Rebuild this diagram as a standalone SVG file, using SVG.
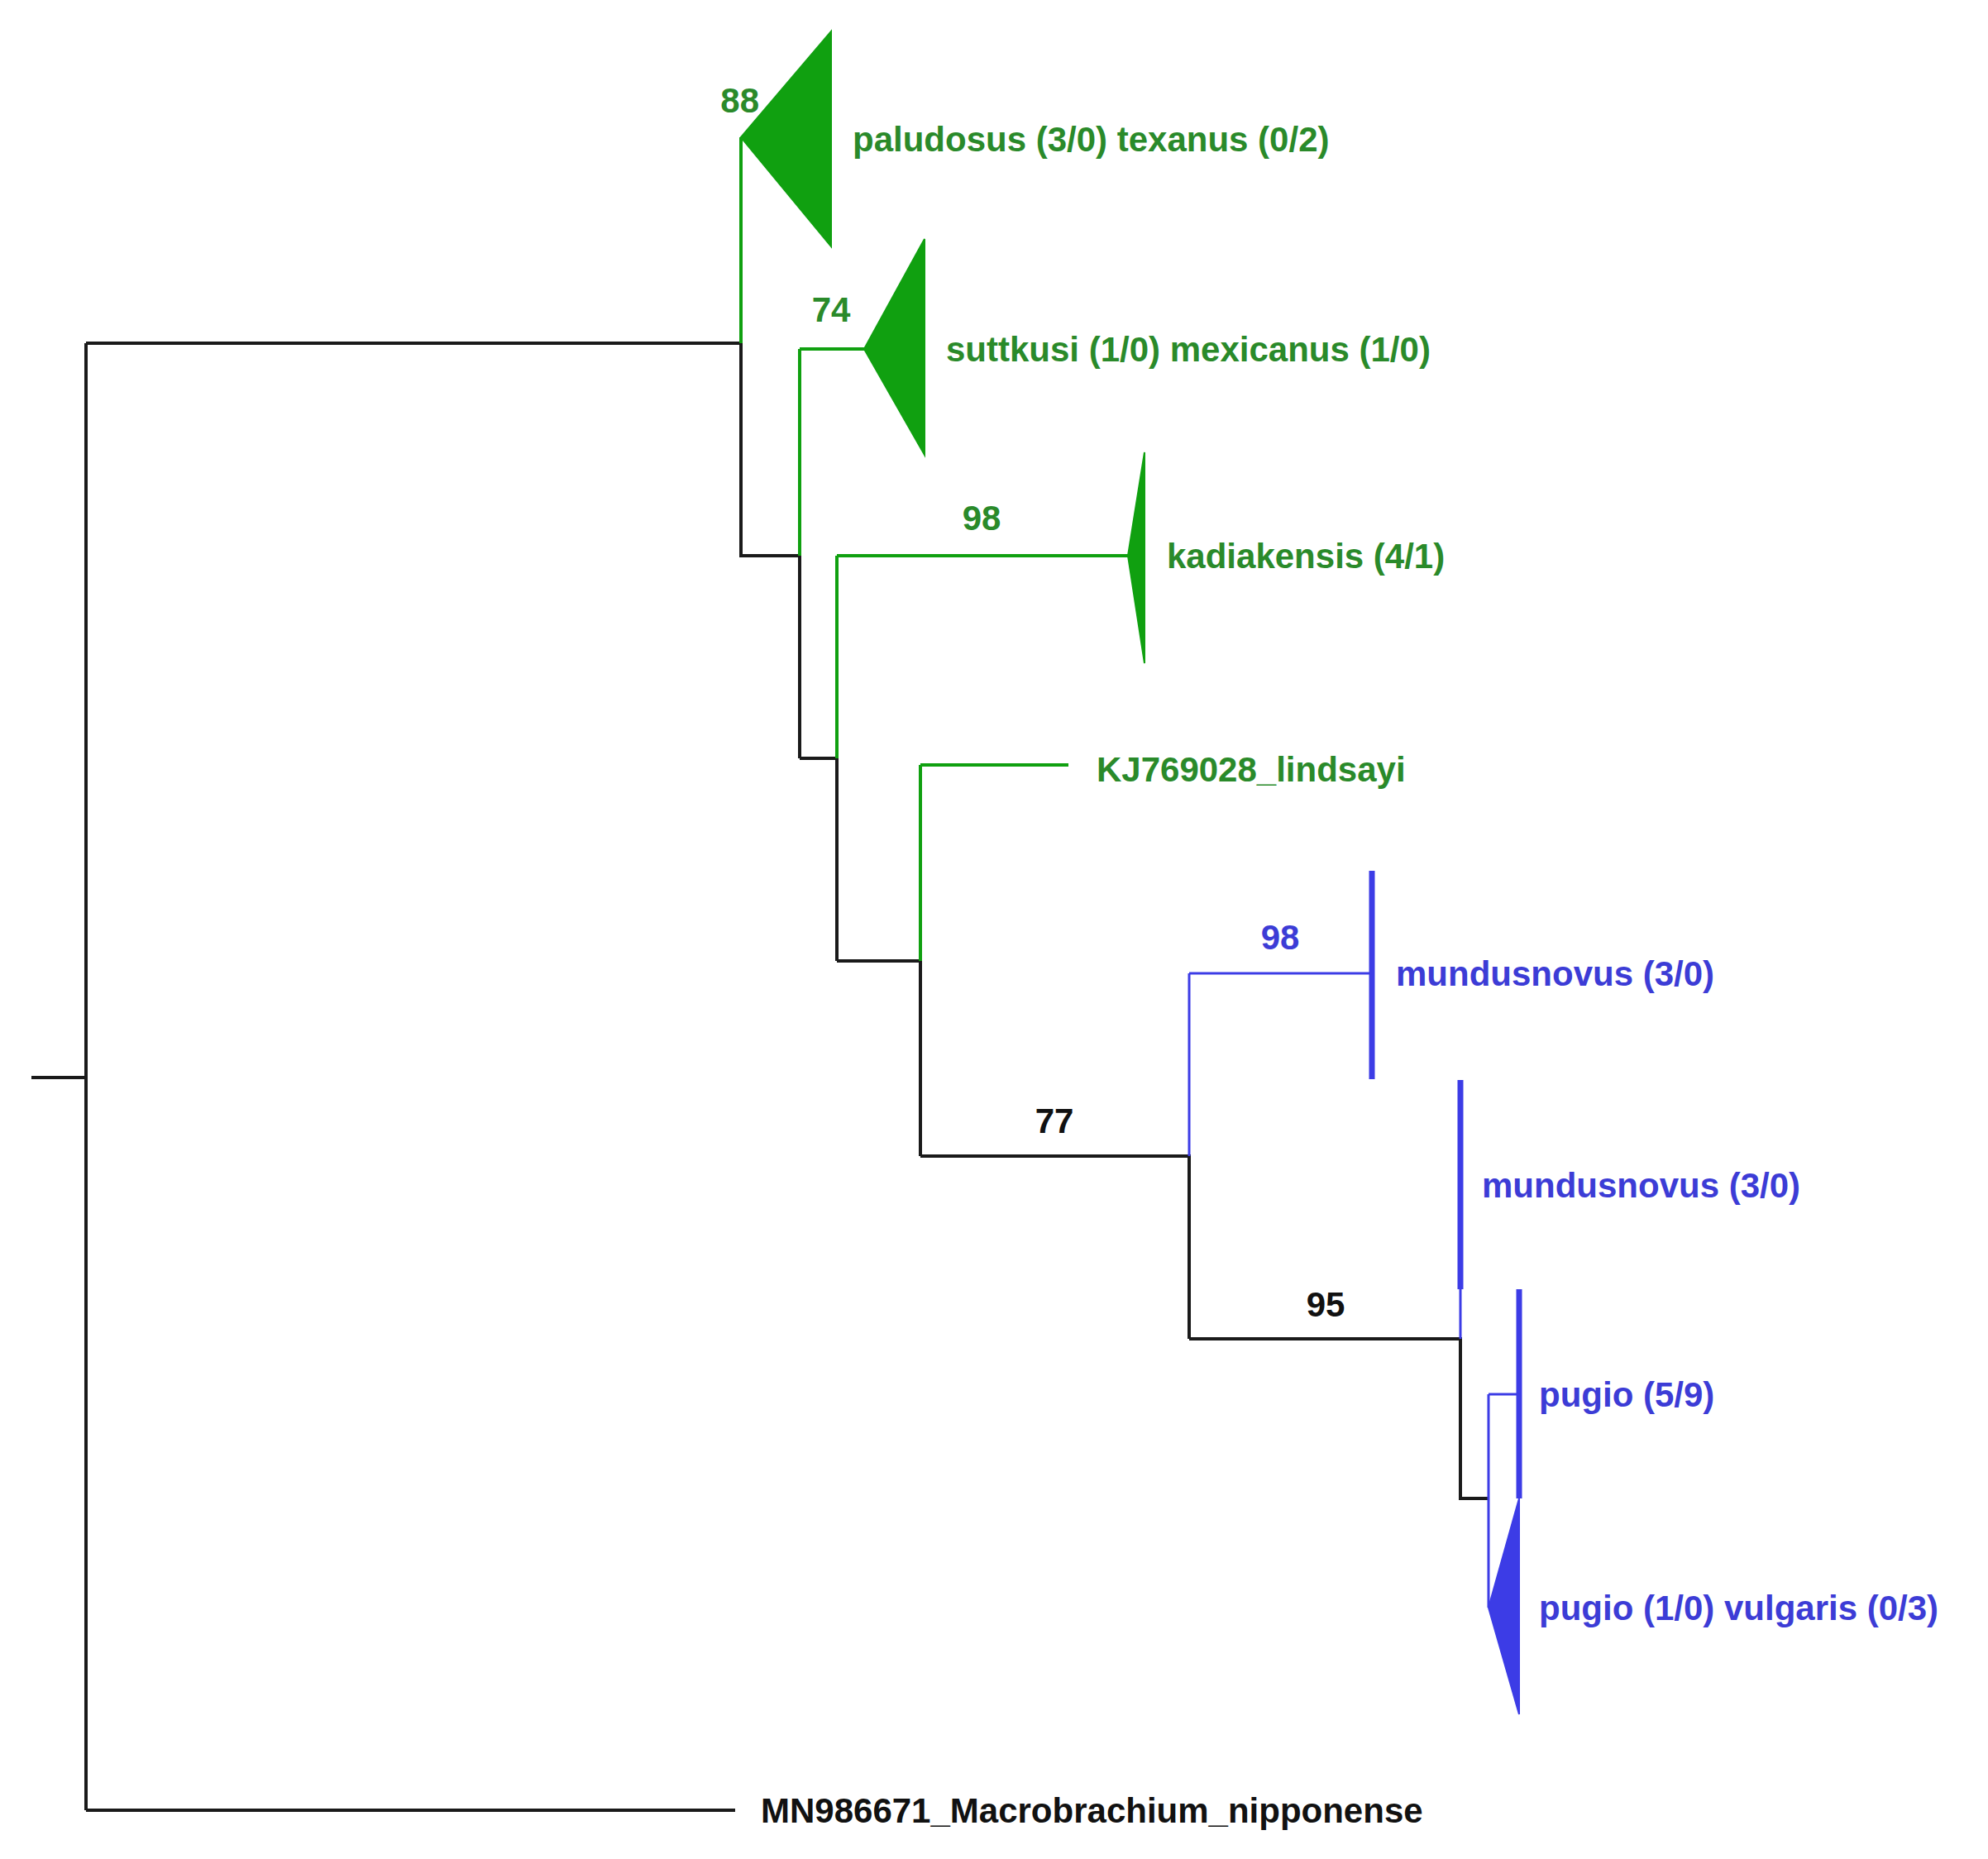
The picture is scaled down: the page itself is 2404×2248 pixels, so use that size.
<svg xmlns="http://www.w3.org/2000/svg" width="2404" height="2248" viewBox="0 0 2404 2248">
<style>
.k{stroke:#1a1a1a;stroke-width:4;fill:none}
.g{stroke:#10a010;stroke-width:4;fill:none}
.b{stroke:#3c3ce6;stroke-width:3;fill:none}
.bt{stroke:#3c3ce6;stroke-width:7;fill:none}
.gt{fill:#10a010;stroke:#10a010;stroke-width:2}
.btri{fill:#3c3ce6;stroke:#3c3ce6;stroke-width:2}
text{font-family:"Liberation Sans",Arial,sans-serif;font-weight:bold;font-size:42px}
.tg{fill:#2a8a2a}.tb{fill:#3c3cd6}.tk{fill:#111}
</style>
<rect width="2404" height="2248" fill="#fff"/>
<g id="connectors">
<path class="k" d="M38 1303H104M104 415V2189M104 415H896M104 2189H889"/>
<path class="g" d="M896 166V415"/><path class="k" d="M896 415V672H967V917"/>
<path class="g" d="M967 422V672M967 422H1045"/>
<path class="k" d="M967 917H1012V1162"/>
<path class="g" d="M1012 672V917M1012 672H1364"/>
<path class="k" d="M1012 1162H1113V1398"/>
<path class="g" d="M1113 925V1162M1113 925H1292"/>
<path class="k" d="M1113 1398H1438V1619"/>
<path class="b" d="M1438 1177V1398M1438 1177H1659"/>
<path class="k" d="M1438 1619H1766V1812H1800"/>
<path class="b" d="M1766 1559V1619M1800 1686V1944M1800 1686H1837"/>
</g>
<g id="n-paludosus"><polygon class="gt" points="896,166 1005,38 1005,298"/><text class="tg" x="1031" y="183">paludosus (3/0) texanus (0/2)</text><text class="tg" x="918" y="136" text-anchor="end">88</text></g>
<g id="n-suttkusi"><polygon class="gt" points="1045,422 1118,289 1118,550"/><text class="tg" x="1144" y="437">suttkusi (1/0) mexicanus (1/0)</text><text class="tg" x="1005" y="389" text-anchor="middle">74</text></g>
<g id="n-kadiakensis"><polygon class="gt" points="1364,672 1384,547 1384,802"/><text class="tg" x="1411" y="687">kadiakensis (4/1)</text><text class="tg" x="1187" y="641" text-anchor="middle">98</text></g>
<g id="n-lindsayi"><text class="tg" x="1326" y="945">KJ769028_lindsayi</text></g>
<g id="n-77"><text class="tk" x="1275" y="1370" text-anchor="middle">77</text></g>
<g id="n-mundus1"><path class="bt" d="M1659 1053V1305"/><text class="tb" x="1688" y="1192">mundusnovus (3/0)</text><text class="tb" x="1548" y="1148" text-anchor="middle">98</text></g>
<g id="n-95"><text class="tk" x="1603" y="1592" text-anchor="middle">95</text></g>
<g id="n-mundus2"><path class="bt" d="M1766 1306V1559"/><text class="tb" x="1792" y="1448">mundusnovus (3/0)</text></g>
<g id="n-pugio"><path class="bt" d="M1837 1559V1812"/><text class="tb" x="1861" y="1701">pugio (5/9)</text></g>
<g id="n-vulgaris"><polygon class="btri" points="1800,1944 1837,1812 1837,2073"/><text class="tb" x="1861" y="1959">pugio (1/0) vulgaris (0/3)</text></g>
<g id="n-outgroup"><text class="tk" x="920" y="2204">MN986671_Macrobrachium_nipponense</text></g>
</svg>
